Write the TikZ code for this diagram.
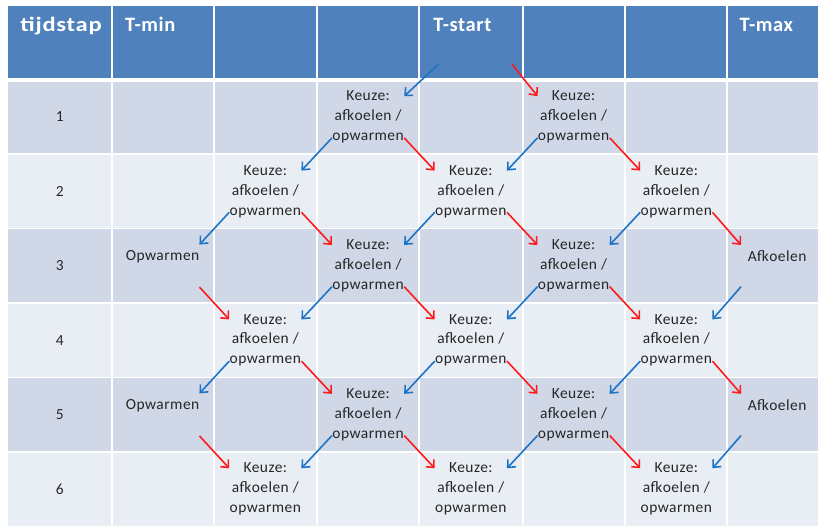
\documentclass[tikz,border=0pt]{standalone}
\usepackage{fontspec}
\setmainfont{Carlito}[LetterSpace=3]
\usetikzlibrary{arrows.meta}

\definecolor{kopblauw}{HTML}{4F81BD}
\definecolor{bandA}{HTML}{D0D8E8}
\definecolor{bandB}{HTML}{E9EDF4}
\definecolor{koud}{HTML}{1C74C6}
\definecolor{warm}{HTML}{FF1A1A}
\newcommand{\keuzetekst}{Keuze:\\afkoelen /\\opwarmen}

\begin{document}
\begin{tikzpicture}[x=1pt, y=-1pt, >={Straight Barb[length=6pt,width=11pt]},
  keuze/.style={align=center, inner sep=0pt, minimum width=72pt, minimum height=60pt,
    text=black!85, font=\fontsize{15.5}{20}\selectfont},
  nr/.style={text=black!85, font=\fontsize{15.5}{20}\selectfont},
  kop/.style={anchor=base west, text=white, font=\bfseries\fontsize{20.5}{24}\selectfont},
  afk/.style={->, koud, line width=1.6pt},
  opw/.style={->, warm, line width=1.6pt}]

% table
\fill[white] (0,0) rectangle (820,526);
\fill[kopblauw] (8,6) rectangle (820,80);
\foreach \r in {1,3,5} \fill[bandA] (8,{80+(\r-1)*74.6}) rectangle (820,{80+\r*74.6});
\foreach \r in {2,4,6} \fill[bandB] (8,{80+(\r-1)*74.6}) rectangle (820,{80+\r*74.6});
\foreach \x in {112,215,318,420,524,627,729} \draw[white, line width=2pt] (\x,6) -- (\x,526);
\foreach \r in {1,...,5} \draw[white, line width=1.5pt] (8,{80+\r*74.6}) -- (820,{80+\r*74.6});
\draw[white, line width=4pt] (8,80) -- (820,80);

% header
\node[kop] (h0) at (17,32) {\scalebox{1.2}[1]{tijdstap}};
\node[kop] (h1) at (122,32) {T-min};
\node[kop] (h4) at (431,32) {T-start};
\node[kop] (h7) at (738,32) {T-max};

% tijdstappen
\foreach \r/\y in {1/117.3, 2/191.9, 3/266.5, 4/341.1, 5/415.7, 6/490.3}
  \node[nr] (t\r) at (60,\y) {\r};

% keuzes
\node[keuze] (n13) at (369,117.3) {\keuzetekst};
\node[keuze] (n15) at (575,117.3) {\keuzetekst};

\node[keuze] (n22) at (266,191.9) {\keuzetekst};
\node[keuze] (n24) at (472,191.9) {\keuzetekst};
\node[keuze] (n26) at (678,191.9) {\keuzetekst};

\node[keuze] (n31) at (163,266.5) {Opwarmen\\\mbox{}};
\node[keuze] (n33) at (369,266.5) {\keuzetekst};
\node[keuze] (n35) at (575,266.5) {\keuzetekst};
\node[keuze] (n37) at (779,266.5) {Afkoelen\\\mbox{}};

\node[keuze] (n42) at (266,341.1) {\keuzetekst};
\node[keuze] (n44) at (472,341.1) {\keuzetekst};
\node[keuze] (n46) at (678,341.1) {\keuzetekst};

\node[keuze] (n51) at (163,415.7) {Opwarmen\\\mbox{}};
\node[keuze] (n53) at (369,415.7) {\keuzetekst};
\node[keuze] (n55) at (575,415.7) {\keuzetekst};
\node[keuze] (n57) at (779,415.7) {Afkoelen\\\mbox{}};

\node[keuze] (n62) at (266,490.3) {\keuzetekst};
\node[keuze] (n64) at (472,490.3) {\keuzetekst};
\node[keuze] (n66) at (678,490.3) {\keuzetekst};

% pijlen
\coordinate (b0) at (440,64);
\coordinate (r0) at (513,64);
\draw[afk] (b0) -- (n13.30);
\draw[opw] (r0) -- (n15.150);

\foreach \a/\b in {n13/n22, n15/n24, n22/n31, n24/n33, n26/n35, n33/n42, n35/n44, n37/n46,
                   n42/n51, n44/n53, n46/n55, n53/n62, n55/n64, n57/n66}
  \draw[afk] (\a.-150) -- (\b.30);
\foreach \a/\b in {n13/n24, n15/n26, n22/n33, n24/n35, n26/n37, n31/n42, n33/n44, n35/n46,
                   n42/n53, n44/n55, n46/n57, n51/n62, n53/n64, n55/n66}
  \draw[opw] (\a.-30) -- (\b.150);

\end{tikzpicture}
\end{document}
